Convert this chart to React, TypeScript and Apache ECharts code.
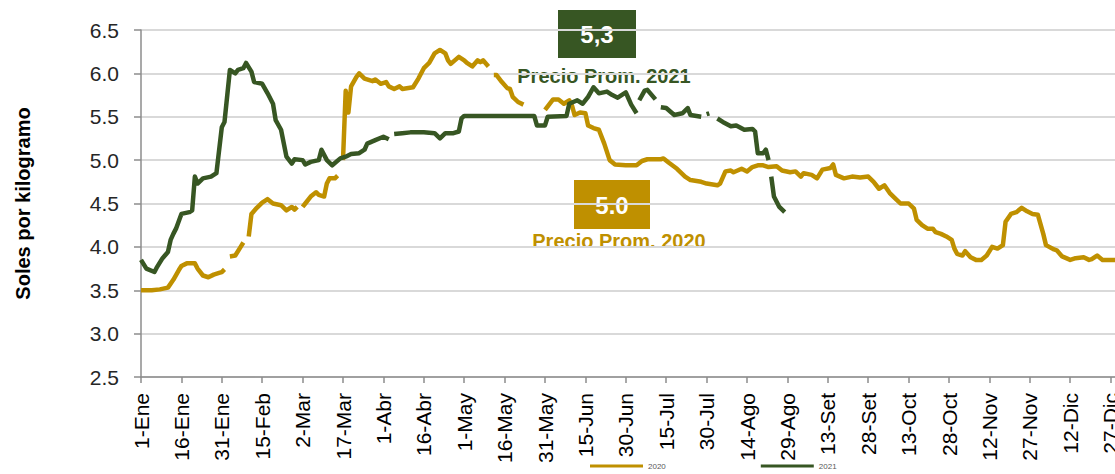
import React, { useEffect, useRef } from "react";
import * as echarts from "echarts";

const tickLabels = [
  "1-Ene", "16-Ene", "31-Ene", "15-Feb", "2-Mar", "17-Mar", "1-Abr", "16-Abr",
  "1-May", "16-May", "31-May", "15-Jun", "30-Jun", "15-Jul", "30-Jul", "14-Ago",
  "29-Ago", "13-Set", "28-Set", "13-Oct", "28-Oct", "12-Nov", "27-Nov", "12-Dic", "27-Dic",
];

// day of year (0 = 1-Ene) and price; null = missing data (line gap)
const days2020 = [
  0, 4, 7, 10, 12, 14, 15, 17, 20, 21, 23, 25, 27, 29, 30, 31, 32, 33, 35, 37, 38, 39,
  40, 41, 43, 45, 47, 49, 52, 54, 56, 57, 58, 59, 60, 61, 63, 65, 66, 68, 69, 70, 72, 73, 74,
  75, 76, 77, 78, 80, 81, 83, 86, 87, 89, 91, 92, 94, 96, 97, 101, 103, 105, 107, 109, 111,
  113, 114, 115, 118, 120, 121, 123, 125, 126, 127, 129, 130, 131, 132, 134, 136, 137, 138,
  140, 142, 145, 150, 153, 155, 157, 159, 160, 161, 163, 165, 166, 168, 170, 172, 174, 176,
  180, 184, 186, 188, 193, 194, 196, 199, 202, 204, 208, 210, 214, 215, 217, 219, 220, 223,
  225, 227, 229, 231, 233, 236, 238, 241, 243, 245, 246, 249, 251, 253, 256, 257, 258, 261,
  264, 267, 270, 272, 274, 276, 278, 280, 282, 285, 287, 288, 290, 292, 294, 295, 297, 299,
  301, 302, 303, 305, 306, 308, 310, 312, 314, 316, 318, 320, 321, 323, 325, 327, 329, 331,
  333, 335, 336, 339, 340, 342, 345, 347, 350, 352, 353, 355, 357, 362,
];
const prices2020 = [
  3.5, 3.5, 3.51, 3.53, 3.62, 3.73, 3.78, 3.81, 3.81, 3.75, 3.67, 3.65, 3.68, 3.7, 3.71, 3.74, null, 3.89, 3.9, 4.0, 4.05, null,
  4.12, 4.38, 4.45, 4.51, 4.55, 4.5, 4.48, 4.42, 4.46, 4.43, 4.46, null, 4.46, 4.5, 4.58, 4.63, 4.6, 4.58, 4.73, 4.79, 4.79, 4.82, null,
  5.0, 5.8, 5.55, 5.85, 5.96, 6.0, 5.94, 5.91, 5.93, 5.88, 5.9, 5.85, 5.82, 5.85, 5.82, 5.84, 5.94, 6.06, 6.12, 6.23, 6.27,
  6.23, 6.15, 6.11, 6.19, 6.15, 6.12, 6.08, 6.15, 6.13, 6.15, 6.08, null, 5.98, 5.98, 5.9, 5.83, 5.82, 5.73,
  5.67, 5.64, null, 5.58, 5.7, 5.7, 5.65, 5.69, 5.63, 5.52, 5.55, 5.54, 5.4, 5.37, 5.35, 5.19, 5.0, 4.95,
  4.94, 4.94, 4.99, 5.01, 5.01, 5.02, 4.97, 4.9, 4.81, 4.77, 4.75, 4.73, 4.71, 4.73, 4.87, 4.88, 4.86, 4.9,
  4.87, 4.92, 4.94, 4.94, 4.92, 4.93, 4.88, 4.86, 4.87, 4.81, 4.85, 4.83, 4.79, 4.89, 4.91, 4.95, 4.83, 4.79,
  4.81, 4.8, 4.81, 4.75, 4.67, 4.71, 4.62, 4.56, 4.5, 4.5, 4.44, 4.31, 4.25, 4.21, 4.21, 4.17, 4.15, 4.12,
  4.08, 3.98, 3.92, 3.9, 3.95, 3.88, 3.85, 3.85, 3.9, 4.0, 3.98, 4.02, 4.29, 4.38, 4.4, 4.45, 4.41, 4.38,
  4.37, 4.15, 4.02, 3.97, 3.96, 3.89, 3.85, 3.87, 3.88, 3.85, 3.86, 3.9, 3.85, 3.85,
];

const days2021 = [
  0, 2, 5, 6, 8, 10, 11, 12, 13, 15, 18, 19, 20, 21, 23, 26, 28, 30, 31, 33, 35, 36, 38, 39,
  41, 42, 45, 47, 49, 50, 52, 54, 56, 57, 60, 61, 63, 66, 67, 69, 71, 74, 76, 78, 81, 83, 84,
  87, 90, 92, 93, 94, 97, 100, 105, 109, 111, 113, 116, 118, 119, 120, 146, 147, 150, 151, 158,
  159, 162, 164, 166, 168, 170, 173, 175, 177, 180, 181, 182, 184, 184.5, 185, 187, 188, 191,
  192, 193, 195, 198, 201, 203, 204, 208, 209, 210, 211, 212.5, 214, 216, 219, 221, 224, 227,
  228, 229, 231, 232, 233, 233.5, 234, 235, 237, 239,
];
const prices2021 = [
  3.85, 3.75, 3.71, 3.77, 3.87, 3.94, 4.08, 4.15, 4.21, 4.38, 4.4, 4.42, 4.81, 4.73, 4.79, 4.81, 4.85, 5.38, 5.44, 6.04, 6.0, 6.04, 6.06, 6.12,
  6.02, 5.9, 5.88, 5.77, 5.65, 5.46, 5.35, 5.04, 4.96, 5.01, 5.0, 4.95, 4.98, 5.0, 5.12, 5.0, 4.94, 5.02, 5.04, 5.07, 5.08, 5.12, 5.19,
  5.23, 5.27, 5.24, null, 5.3, 5.31, 5.32, 5.32, 5.31, 5.25, 5.31, 5.31, 5.33, 5.48, 5.51, 5.51, 5.4, 5.4, 5.5, 5.51,
  5.65, 5.69, 5.65, 5.73, 5.84, 5.77, 5.79, 5.75, 5.72, 5.78, 5.71, 5.64, 5.54, null, 5.69, 5.8, 5.81, 5.7,
  null, 5.61, 5.6, 5.52, 5.54, 5.6, 5.52, 5.5, null, 5.53, 5.54, null, 5.48, 5.44, 5.39, 5.4, 5.35, 5.36,
  5.33, 5.08, 5.08, 5.12, 5.0, null, 4.81, 4.58, 4.46, 4.4,
];

const GOLD = "#BF9000";
const GREEN = "#375623";
const FONT = '"Liberation Sans", Arial, sans-serif';

const toData = (days: number[], vals: (number | null)[]) =>
  days.map((d, i) => [d, vals[i] === null ? "-" : vals[i]]);

export default function App() {
  const ref = useRef<HTMLDivElement>(null);
  useEffect(() => {
    if (!ref.current) return;
    const chart = echarts.init(ref.current, null, { renderer: "svg" });
    chart.setOption({
      animation: false,
      backgroundColor: "#ffffff",
      textStyle: { fontFamily: FONT },
      grid: {
        left: 141,
        top: 30,
        right: -1,
        bottom: 97,
        containLabel: false,
        outerBoundsMode: "none",
      },
      legend: {
        data: ["2020", "2021"],
        left: 590,
        top: 461,
        padding: 0,
        icon: "rect",
        itemWidth: 53,
        itemHeight: 3,
        itemGap: 95,
        textStyle: { fontSize: 8, lineHeight: 10, color: "#595959", fontFamily: FONT },
      },
      xAxis: {
        type: "value",
        min: 0,
        max: 362,
        interval: 15,
        axisLine: { show: true, onZero: false, lineStyle: { color: "#8c8c8c", width: 1.5 } },
        axisTick: { show: true, length: 6, lineStyle: { color: "#8c8c8c", width: 1.5 } },
        splitLine: { show: false },
        axisLabel: {
          rotate: 90,
          margin: 16,
          fontSize: 21,
          color: "#000000",
          fontFamily: FONT,
          showMaxLabel: false,
          formatter: (v: number) => (v % 15 === 0 && tickLabels[v / 15]) || "",
        },
      },
      yAxis: {
        type: "value",
        min: 2.5,
        max: 6.5,
        interval: 0.5,
        name: "Soles por kilogramo",
        nameLocation: "middle",
        nameGap: 108,
        nameRotate: 90,
        nameTextStyle: { fontSize: 20, fontWeight: "bold", color: "#000000", fontFamily: FONT },
        axisLine: { show: true, onZero: false, lineStyle: { color: "#8c8c8c", width: 1.5 } },
        axisTick: { show: true, length: 7, lineStyle: { color: "#8c8c8c", width: 1.5 } },
        splitLine: { show: true, lineStyle: { color: "#d9d9d9", width: 2 } },
        axisLabel: {
          margin: 22,
          fontSize: 21,
          color: "#262626",
          fontFamily: FONT,
          formatter: (v: number) => v.toFixed(1),
        },
      },
      series: [
        {
          name: "2020",
          type: "line",
          data: toData(days2020, prices2020),
          showSymbol: false,
          symbol: "none",
          connectNulls: false,
          itemStyle: { color: GOLD },
          lineStyle: { color: GOLD, width: 4.5, join: "round" },
        },
        {
          name: "2021",
          type: "line",
          data: toData(days2021, prices2021),
          showSymbol: false,
          symbol: "none",
          connectNulls: false,
          itemStyle: { color: GREEN },
          lineStyle: { color: GREEN, width: 4.5, join: "round" },
        },
      ],
      graphic: [
        { type: "rect", shape: { x: 558, y: 10, width: 78, height: 48 }, style: { fill: GREEN } },
        {
          type: "text", x: 597, y: 34,
          style: { text: "5,3", fill: "#ffffff", font: `bold 24px ${FONT}`, textAlign: "center", textVerticalAlign: "middle", align: "center", verticalAlign: "middle" },
        },
        {
          type: "text", x: 604, y: 76,
          style: { text: "Precio Prom. 2021", fill: GREEN, font: `bold 20px ${FONT}`, textAlign: "center", textVerticalAlign: "middle", align: "center", verticalAlign: "middle" },
        },
        { type: "rect", shape: { x: 574, y: 180, width: 76, height: 49 }, style: { fill: GOLD } },
        {
          type: "text", x: 612, y: 205,
          style: { text: "5.0", fill: "#ffffff", font: `bold 24px ${FONT}`, textAlign: "center", textVerticalAlign: "middle", align: "center", verticalAlign: "middle" },
        },
        {
          type: "text", x: 619, y: 241,
          style: { text: "Precio Prom. 2020", fill: GOLD, font: `bold 20px ${FONT}`, textAlign: "center", textVerticalAlign: "middle", align: "center", verticalAlign: "middle" },
        },
      ],
    });
    return () => chart.dispose();
  }, []);
  return (
    <div
      ref={ref}
      style={{ position: "absolute", left: 0, top: 0, width: 1115, height: 474 }}
    />
  );
}
